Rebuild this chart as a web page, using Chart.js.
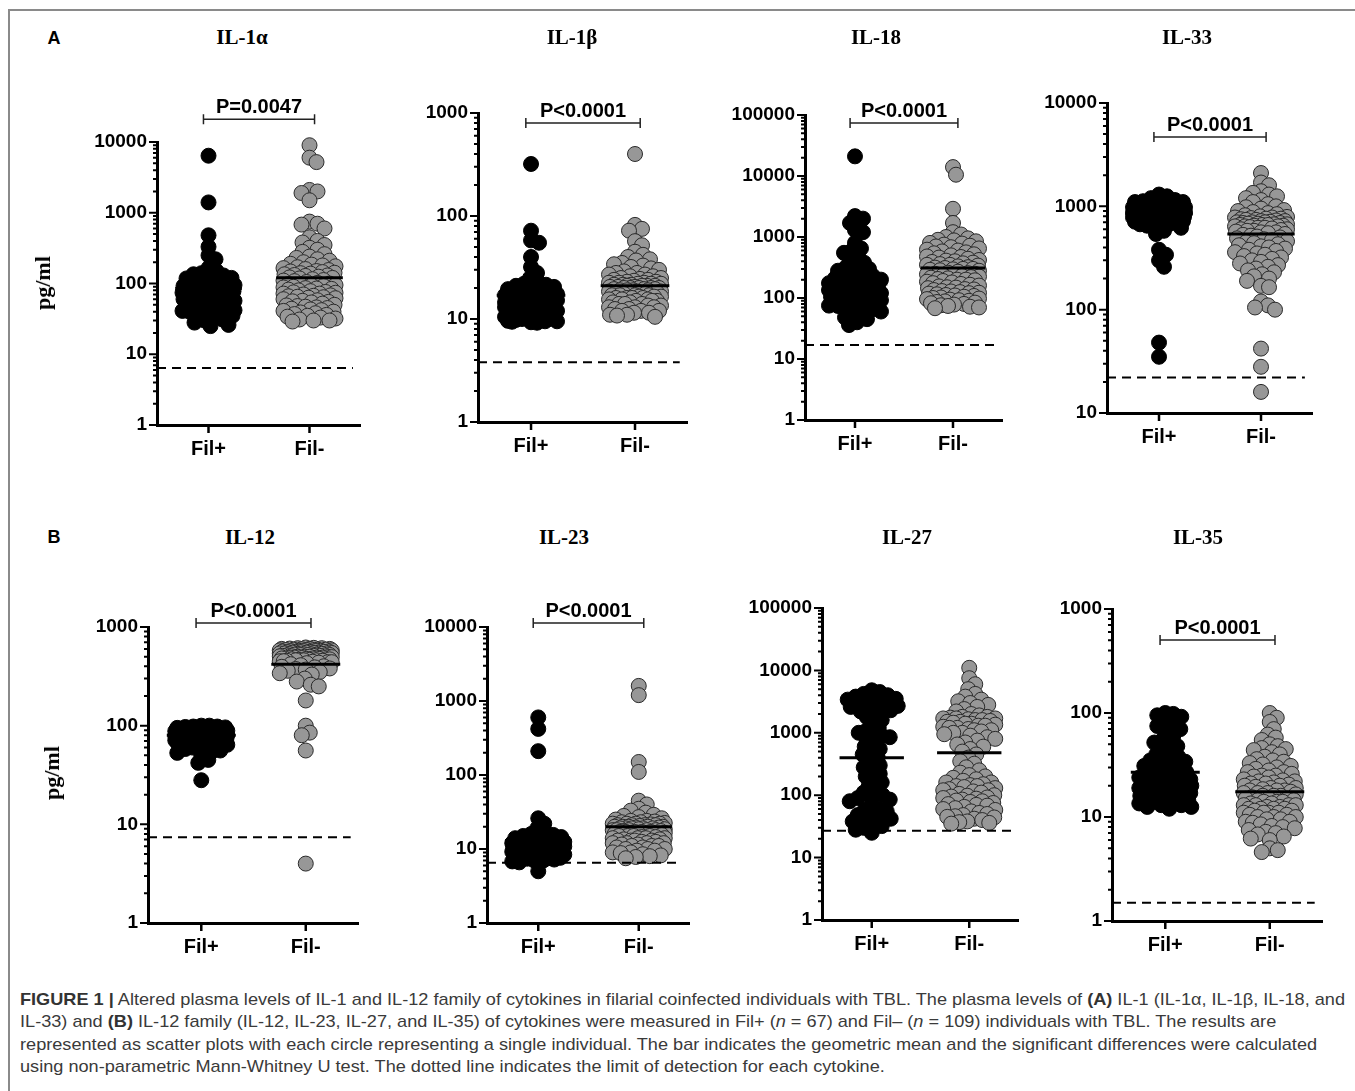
<!DOCTYPE html>
<html>
<head>
<meta charset="utf-8">
<script src="https://cdn.jsdelivr.net/npm/chart.js@4.4.0/dist/chart.umd.min.js"></script>
<style>
  html, body { margin: 0; padding: 0; background: #fff; }
  body { position: relative; width: 1355px; height: 1091px; overflow: hidden; }
  #frame { position: absolute; left: 8px; top: 9px; width: 1360px; height: 1100px;
           border-top: 2px solid #8a8a8a; border-left: 2px solid #8a8a8a; }
  .lbl { position: absolute; transform: translate(-50%, -50%); white-space: nowrap; color: #000; }
  .panel-letter { font: bold 18px "Liberation Sans", Arial, sans-serif; }
  .ttl { font: bold 21px "Liberation Serif", "Times New Roman", serif; }
  .yttl { font: bold 22px "Liberation Serif", "Times New Roman", serif;
          transform: translate(-50%, -50%) rotate(-90deg); }
  .plot { position: absolute; }
  #caption { position: absolute; left: 20px; top: 989px; color: #3a3a3a;
             font: 17px "Liberation Sans", Arial, sans-serif; }
  #caption div { white-space: nowrap; height: 22.3px; line-height: 22.3px; transform-origin: 0 50%; width: max-content; }
  #caption b { color: #333; }
</style>
</head>
<body>
<div id="frame"></div>
<div id="root"></div>
<div id="caption">
  <div><b>FIGURE 1 |</b> Altered plasma levels of IL-1 and IL-12 family of cytokines in filarial coinfected individuals with TBL. The plasma levels of <b>(A)</b> IL-1 (IL-1α, IL-1β, IL-18, and</div>
  <div>IL-33) and <b>(B)</b> IL-12 family (IL-12, IL-23, IL-27, and IL-35) of cytokines were measured in Fil+ (<i>n</i> = 67) and Fil– (<i>n</i> = 109) individuals with TBL. The results are</div>
  <div>represented as scatter plots with each circle representing a single individual. The bar indicates the geometric mean and the significant differences were calculated</div>
  <div>using non-parametric Mann-Whitney U test. The dotted line indicates the limit of detection for each cytokine.</div>
</div>
<script>
// ─── DATA ─────────────────────────────────────────────────────
const groupLabels = ['Fil+', 'Fil-'];
const cytokines   = ['IL-1α', 'IL-1β', 'IL-18', 'IL-33', 'IL-12', 'IL-23', 'IL-27', 'IL-35'];
const yMin        = [1, 1, 1, 10, 1, 1, 1, 1];
const yMax        = [10000, 1000, 100000, 10000, 1000, 10000, 100000, 1000];
const detectLimit = [6.4, 3.8, 17, 22, 7.4, 6.5, 27, 1.5];
const geoMeanPos  = [85, 17, 170, 850, 80, 13, 400, 27];
const geoMeanNeg  = [121, 21, 310, 540, 420, 20, 480, 17.5];
const pLabels     = ['P=0.0047', 'P<0.0001', 'P<0.0001', 'P<0.0001', 'P<0.0001', 'P<0.0001', null, 'P<0.0001'];
const pBracketAt  = [21000, 800, 74000, 4700, 1100, 11300, null, 504];

const il1aPos = [6400,1400,480,330,250,220,165,150,140,135,130,125,120,118,115,110,105,100,98,95,92,90,88,86,84,82,80,78,76,75,74,72,70,68,66,65,64,62,60,58,57,56,55,54,52,50,49,48,47,46,45,44,43,42,41,40,40,39,38,36,35,33,31,30,28,26,25];
const il1aNeg = [9000,6000,5200,2100,2000,1900,1500,750,700,680,600,450,400,380,350,320,300,280,260,240,230,220,210,200,190,185,180,175,170,165,160,155,150,148,145,142,140,138,135,132,130,128,125,122,120,118,115,112,110,108,105,102,100,98,96,94,92,90,88,86,84,82,80,78,76,75,74,72,70,68,67,66,65,64,62,60,58,57,56,55,54,52,50,49,48,47,46,45,44,43,42,41,40,39,38,37,36,35,34,33,32,31,30,30,29,95,85,72,63];
const il1bPos = [320,72,58,55,40,32,28,25,23,22,21.5,21,20.5,20,19.5,19,18.5,18,18,17.5,17,17,16.5,16,16,15.5,15.5,15,15,14.5,14.5,14,14,14,13.5,13.5,13,13,13,12.5,12.5,12,12,12,11.5,11.5,11,11,11,10.5,10.5,10.5,10,10,10,10,9.8,9.8,9.6,9.5,9.5,9.4,9.3,9.2,12.8,13.2,15.2];
const il1bNeg = [400,82,75,72,57,52,45,42,40,38,37,35,34,33,32,31,30,29,28,28,27,27,26,26,25,25,24.5,24,24,23.5,23,23,22.5,22.5,22,22,22,21.5,21.5,21,21,21,20.5,20.5,20,20,20,20,19.5,19.5,19,19,19,18.5,18.5,18,18,18,17.5,17.5,17,17,17,16.5,16.5,16,16,16,15.5,15.5,15,15,15,14.5,14.5,14,14,14,13.5,13.5,13,13,13,12.5,12.5,12,12,12,11.5,11.5,11,11,10.8,10.5,21,20,19,18,17,16,19.5,18.5,17.5,16.5,15.5,20.5,22.5,21.5];
const il18Pos = [21000,2200,2000,1700,1300,1200,800,650,600,550,480,420,380,340,320,300,280,260,240,230,220,210,200,190,180,175,170,165,160,155,150,145,140,135,130,125,120,118,115,112,110,105,100,98,95,92,90,88,85,82,80,80,78,76,75,74,72,70,68,65,60,56,52,48,45,40,36];
const il18Neg = [14000,10500,2900,1700,1200,1100,1000,950,900,880,850,800,780,750,720,700,680,650,620,600,580,560,540,520,500,480,470,460,440,420,410,400,390,380,370,360,350,340,330,320,315,310,300,295,290,285,280,270,260,255,250,245,240,235,230,225,220,215,210,205,200,195,190,185,180,175,170,165,160,155,150,148,145,140,138,135,130,128,125,122,120,118,115,112,110,108,105,102,100,98,96,94,92,90,88,86,84,82,80,78,76,74,72,70,68,350,300,250,200];
const il33Pos = [1300,1250,1200,1150,1100,1100,1050,1050,1000,1000,980,960,950,940,920,900,900,890,880,870,860,850,850,840,830,820,810,800,800,790,780,770,760,750,750,740,730,720,710,700,700,690,680,670,660,650,920,870,830,780,940,1000,1120,860,760,720,620,580,540,380,340,300,260,48,35,980,880];
const il33Neg = [2100,1700,1600,1400,1350,1300,1250,1200,1150,1100,1050,1000,980,950,920,900,880,860,840,820,800,790,780,770,760,750,740,730,720,710,700,700,690,690,680,680,670,670,660,660,650,650,640,640,630,620,610,600,600,590,580,570,560,550,540,530,520,510,500,490,480,470,460,450,440,430,420,410,400,390,380,370,360,350,340,330,320,310,300,290,280,270,260,250,240,230,220,210,200,190,170,165,120,110,105,100,42,28,16,560,580,620,640,660,700,720,740,760,780];
const il12Pos = [100,100,98,98,97,96,95,95,94,93,92,92,91,90,90,89,88,88,87,86,86,85,85,84,84,83,82,82,81,80,80,79,78,78,77,76,76,75,75,74,73,72,72,71,70,70,69,68,68,67,66,65,64,63,62,60,58,56,55,53,50,45,42,28,88,92,95];
const il12Neg = [620,615,610,605,600,600,595,590,590,585,580,580,575,570,570,565,560,560,555,550,550,545,540,540,535,530,530,525,520,520,515,510,510,505,500,500,495,490,490,485,480,480,475,470,470,465,460,460,455,450,450,445,440,440,435,430,420,410,400,395,390,380,375,370,360,350,340,330,300,280,260,250,180,100,85,80,56,4,590,585,575,565,555,545,535,525,515,505,495,485,475,465,455,600,610,580,570,560,550,540,530,520,510,500,490,480,470,460];
const il23Pos = [600,420,210,26,22,19,17,16,15.5,15,14.5,14,14,13.5,13.5,13,13,12.5,12.5,12,12,12,11.5,11.5,11.5,11,11,11,10.8,10.5,10.5,10.5,10.2,10,10,10,10,9.8,9.6,9.5,9.5,9.4,9.2,9,9,9,8.8,8.6,8.5,8.4,8.2,8,8,7.8,7.6,7.5,7.4,7.2,7,7,6.8,6.6,5,11.2,12.2,10.4,9.7];
const il23Neg = [1600,1200,150,110,45,40,35,33,31,29,28,27,26,25,24,23.5,23,22.5,22,22,21.5,21,21,20.5,20,20,20,19.5,19.5,19,19,19,18.5,18.5,18,18,18,17.5,17.5,17,17,17,16.5,16.5,16,16,16,15.5,15.5,15,15,15,14.5,14.5,14,14,14,13.5,13.5,13,13,13,12.5,12.5,12,12,12,11.5,11.5,11,11,11,10.5,10.5,10,10,10,9.5,9.5,9,9,8.8,8.5,8.2,8,7.8,7.5,22,21,20,19,18,17,16,15,14,13,12,24,23,22,21,20,19,18,17,16];
const il27Pos = [4800,4500,4200,4000,3800,3600,3500,3400,3300,3200,3000,2900,2800,2700,2600,2500,2400,2300,2200,2000,1800,1600,1400,1200,1100,1000,950,900,850,800,700,600,550,500,450,400,350,300,280,250,220,200,180,160,140,120,110,100,95,90,85,80,70,60,58,55,50,48,45,42,40,38,35,32,30,28,25];
const il27Neg = [11000,7500,6000,5000,4200,3800,3400,3200,3000,2800,2600,2400,2200,2000,1900,1800,1750,1700,1700,1650,1600,1600,1550,1500,1500,1450,1400,1350,1300,1250,1200,1200,1150,1100,1100,1050,1000,1000,950,900,850,800,750,700,650,600,550,500,450,400,350,320,280,250,230,210,200,190,180,170,160,150,145,140,135,130,125,120,115,110,105,100,98,95,92,90,88,85,82,80,78,75,72,70,68,65,62,60,58,55,52,50,48,46,45,44,42,40,38,37,36,35,1700,1800,1300,1400,120,140,160];
const il35Pos = [100,98,95,92,80,78,75,70,65,60,55,52,50,48,45,42,40,38,36,35,34,33,32,31,30,29,28,27,26,25,24.5,24,23.5,23,22.5,22,22,21.5,21,21,20.5,20,20,19.5,19,19,18.5,18,18,17.5,17,17,16.5,16,16,15.5,15,15,14.5,14,14,13.5,13,13,12.5,12.5,12];
const il35Neg = [100,90,82,70,62,58,55,50,48,46,45,44,42,40,38,36,35,34,33,32,31,30,29,28,27,26,25,24.5,24,23,22.5,22,21.5,21,20.5,20,19.5,19,18.5,18,18,17.5,17,17,16.5,16,16,15.5,15,15,14.5,14.5,14,14,13.5,13.5,13,13,13,12.5,12.5,12,12,12,11.5,11.5,11,11,11,10.5,10.5,10,10,10,9.5,9.5,9,9,8.8,8.5,8.2,8,7.8,7.5,7.2,7,6.8,6.5,6.2,6,5,4.8,4.6,20,19,18,17,16,15,14,13,12,11,22,21,25,27];

const filPosValues = [il1aPos, il1bPos, il18Pos, il33Pos, il12Pos, il23Pos, il27Pos, il35Pos];
const filNegValues = [il1aNeg, il1bNeg, il18Neg, il33Neg, il12Neg, il23Neg, il27Neg, il35Neg];

// ─── LAYOUT (page pixels of each plot's axis box + title) ─────
const BOX = [
  { l: 157,  t: 142, r: 360,  b: 425, tx: 242,  ty: 37 },
  { l: 478,  t: 113, r: 687,  b: 422, tx: 572,  ty: 37 },
  { l: 805,  t: 115, r: 1002, b: 420, tx: 876,  ty: 37 },
  { l: 1107, t: 103, r: 1312, b: 413, tx: 1187, ty: 37 },
  { l: 148,  t: 627, r: 358,  b: 923, tx: 250,  ty: 537 },
  { l: 487,  t: 627, r: 689,  b: 923, tx: 564,  ty: 537 },
  { l: 822,  t: 608, r: 1018, b: 920, tx: 907,  ty: 537 },
  { l: 1112, t: 609, r: 1322, b: 921, tx: 1198, ty: 537 }
];
const PAD_L = 110, PAD_T = 62, PAD_R = 14, PAD_B = 48;
const FONT = '"Liberation Sans", Arial, sans-serif';

// ─── HELPERS ──────────────────────────────────────────────────
function isDecade(v) {
  const l = Math.log10(v);
  return Math.abs(l - Math.round(l)) < 1e-9;
}

function logTicks(min, max) {
  const out = [];
  for (let e = Math.round(Math.log10(min)); e < Math.round(Math.log10(max)); e++) {
    for (let m = 1; m < 10; m++) out.push({ value: m * Math.pow(10, e) });
  }
  out.push({ value: max });
  return out;
}

function addText(cls, text, x, y) {
  const d = document.createElement('div');
  d.className = 'lbl ' + cls;
  d.textContent = text;
  d.style.left = x + 'px';
  d.style.top = y + 'px';
  document.body.appendChild(d);
}

// beeswarm placement in pixel space, capped to a column width
function swarm(values, yScale, xScale, centre) {
  const DMIN = 8, HALF = 26;
  const pxPerUnit = xScale.getPixelForValue(2) - xScale.getPixelForValue(1);
  const pts = values.map(v => ({ v, py: yScale.getPixelForValue(v) }))
                    .sort((a, b) => a.py - b.py);
  const placed = [];
  const out = [];
  for (const p of pts) {
    let best = 0, bestScore = -1;
    for (let k = 0; k <= 2 * HALF; k++) {
      const off = (k % 2 ? 1 : -1) * Math.ceil(k / 2);
      let minD = Infinity;
      for (const q of placed) {
        const dy = q.py - p.py;
        if (Math.abs(dy) >= DMIN) continue;
        const d = Math.hypot(q.px - off, dy);
        if (d < minD) minD = d;
      }
      if (minD >= DMIN) { best = off; break; }
      if (minD > bestScore) { bestScore = minD; best = off; }
    }
    placed.push({ px: best, py: p.py });
    out.push({ x: centre + best / pxPerUnit, y: p.v });
  }
  return out;
}

// ─── AXIS TICKS + SIGNIFICANCE BRACKET ────────────────────────
const deco = {
  id: 'deco',
  afterDraw(chart, args, o) {
    const { ctx, chartArea: a, scales: { x, y } } = chart;
    ctx.save();
    ctx.strokeStyle = '#000';
    ctx.lineWidth = 2;
    ctx.beginPath();
    y.ticks.forEach(t => {
      const py = y.getPixelForValue(t.value);
      const len = isDecade(t.value) ? 8 : 4;
      ctx.moveTo(a.left - len, py);
      ctx.lineTo(a.left, py);
    });
    ctx.stroke();
    ctx.lineWidth = 2.5;
    ctx.beginPath();
    x.ticks.forEach(t => {
      const px = x.getPixelForValue(t.value);
      ctx.moveTo(px, a.bottom);
      ctx.lineTo(px, a.bottom + 8);
    });
    ctx.stroke();
    if (o.text) {
      const py = y.getPixelForValue(o.at);
      const x1 = x.getPixelForValue(0.95), x2 = x.getPixelForValue(2.05);
      ctx.strokeStyle = '#222';
      ctx.lineWidth = 1.5;
      ctx.beginPath();
      ctx.moveTo(x1, py); ctx.lineTo(x2, py);
      ctx.moveTo(x1, py - 5); ctx.lineTo(x1, py + 5);
      ctx.moveTo(x2, py - 5); ctx.lineTo(x2, py + 5);
      ctx.stroke();
      ctx.fillStyle = '#000';
      ctx.font = 'bold 20px ' + FONT;
      ctx.textAlign = 'center';
      ctx.textBaseline = 'alphabetic';
      ctx.fillText(o.text, (x1 + x2) / 2, py - 6);
    }
    ctx.restore();
  }
};

// ─── BUILD PANELS ─────────────────────────────────────────────
addText('panel-letter', 'A', 54, 38);
addText('panel-letter', 'B', 54, 537);
addText('yttl', 'pg/ml', 43, 283);
addText('yttl', 'pg/ml', 52, 773);

const X_MIN = 0.49, X_MAX = 2.5, MEAN_HALF = 0.33;

cytokines.forEach((name, i) => {
  const b = BOX[i];
  addText('ttl', name, b.tx, b.ty);

  const w = (b.r - b.l) + PAD_L + PAD_R;
  const h = (b.b - b.t) + PAD_T + PAD_B;
  const holder = document.createElement('div');
  holder.className = 'plot';
  holder.style.left = (b.l - PAD_L) + 'px';
  holder.style.top = (b.t - PAD_T) + 'px';
  const cv = document.createElement('canvas');
  cv.width = w; cv.height = h;
  cv.style.width = w + 'px'; cv.style.height = h + 'px';
  holder.appendChild(cv);
  document.getElementById('root').appendChild(holder);

  const lineDs = (x0, x1, v, extra) => Object.assign({
    type: 'scatter', showLine: true, pointRadius: 0, borderColor: '#000',
    borderWidth: 3, clip: false, order: 0,
    data: [{ x: x0, y: v }, { x: x1, y: v }]
  }, extra || {});

  const chart = new Chart(cv, {
    type: 'scatter',
    data: {
      datasets: [
        lineDs(1 - MEAN_HALF, 1 + MEAN_HALF, geoMeanPos[i]),
        lineDs(2 - MEAN_HALF, 2 + MEAN_HALF, geoMeanNeg[i]),
        lineDs(X_MIN, 2.43, detectLimit[i], { borderWidth: 2, borderDash: [9, 6] }),
        { label: groupLabels[1], data: [], order: 1, clip: false,
          pointRadius: 7.5, pointHoverRadius: 7.5,
          backgroundColor: '#979797', borderColor: '#2a2a2a', borderWidth: 1 },
        { label: groupLabels[0], data: [], order: 2, clip: false,
          pointRadius: 7.5, pointHoverRadius: 7.5,
          backgroundColor: '#000', borderColor: '#000', borderWidth: 1 }
      ]
    },
    options: {
      responsive: false,
      animation: false,
      events: [],
      layout: { padding: { left: 0, top: PAD_T, right: PAD_R, bottom: 0 } },
      plugins: {
        legend: { display: false },
        tooltip: { enabled: false },
        deco: { text: pLabels[i], at: pBracketAt[i] }
      },
      scales: {
        x: {
          type: 'linear', min: X_MIN, max: X_MAX,
          afterBuildTicks: s => { s.ticks = [{ value: 1 }, { value: 2 }]; },
          afterFit: s => { s.height = PAD_B; },
          grid: { display: true, drawOnChartArea: false, drawTicks: false },
          border: { display: true, color: '#000', width: 3 },
          ticks: {
            padding: 12, color: '#000', autoSkip: false, maxRotation: 0,
            font: { family: FONT, size: 20, weight: 'bold' },
            callback: v => groupLabels[Math.round(v) - 1]
          }
        },
        y: {
          type: 'logarithmic', min: yMin[i], max: yMax[i],
          afterBuildTicks: s => { s.ticks = logTicks(yMin[i], yMax[i]); },
          afterFit: s => { s.width = PAD_L; },
          grid: { display: true, drawOnChartArea: false, drawTicks: false },
          border: { display: true, color: '#000', width: 3 },
          ticks: {
            padding: 10, color: '#000', autoSkip: false,
            font: { family: FONT, size: 19, weight: 'bold' },
            callback: v => (isDecade(v) ? String(Math.round(v)) : '')
          }
        }
      }
    },
    plugins: [deco]
  });

  chart.data.datasets[4].data = swarm(filPosValues[i], chart.scales.y, chart.scales.x, 1);
  chart.data.datasets[3].data = swarm(filNegValues[i], chart.scales.y, chart.scales.x, 2);
  chart.update('none');
});

// ─── CAPTION: one uniform horizontal fit so line 1 spans its printed width ──
const capLines = document.querySelectorAll('#caption div');
const capScale = 1325 / capLines[0].getBoundingClientRect().width;
capLines.forEach(d => { d.style.transform = 'scaleX(' + capScale + ')'; });
</script>
</body>
</html>
